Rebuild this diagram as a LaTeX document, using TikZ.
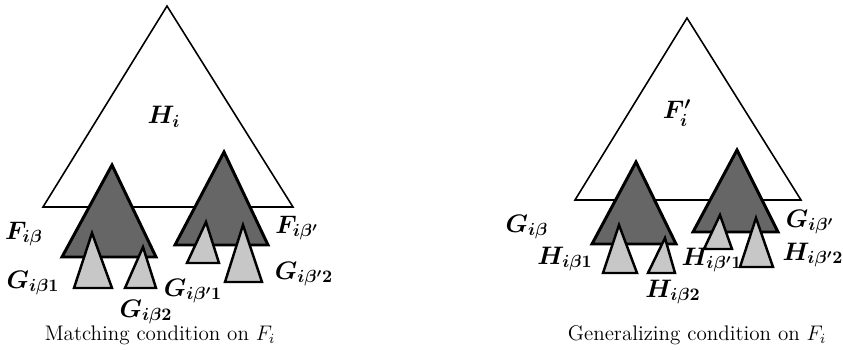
\documentclass[tikz,border=0pt]{standalone}
\usepackage{amsmath,amssymb}
\usepackage{xcolor}
\usepackage{tikz}

\begin{document}
\begin{tikzpicture}[
    x=0.02cm, y=-0.02cm,
    outer/.style={draw, line width=0.9pt, fill=white, line join=miter},
    subtree/.style={draw, line width=1.7pt, fill=black!60, line join=miter},
    leaftree/.style={draw, line width=1.4pt, fill=black!22, line join=miter},
    tlabel/.style={inner sep=1pt, font=\Large\boldmath},
    caption/.style={font=\large, inner sep=1pt},
  ]
  \useasboundingbox (0,0) rectangle (843,349);
  % left: matching condition
  \draw[outer] (167,6) -- (293,207) -- (43,207) -- cycle;
  \draw[subtree] (112,165) -- (156,257) -- (62,257) -- cycle;
  \draw[subtree] (224,152) -- (268,245) -- (175,245) -- cycle;
  \draw[leaftree] (92,233) -- (112,288) -- (74,288) -- cycle;
  \draw[leaftree] (143,247) -- (156,288) -- (125,288) -- cycle;
  \draw[leaftree] (206,222) -- (219,263) -- (187,263) -- cycle;
  \draw[leaftree] (243,225) -- (262,282) -- (225,282) -- cycle;
  \node[tlabel] (hi) at (164,117) {$H_{i}$};
  \node[tlabel] (fib) at (24,234) {$F_{i\beta}$};
  \node[tlabel] (fibp) at (297,228) {$F_{i\beta'}$};
  \node[tlabel] (gib1) at (33,283) {$G_{i\beta1}$};
  \node[tlabel] (gib2) at (146,312) {$G_{i\beta2}$};
  \node[tlabel] (gibp1) at (193,291) {$G_{i\beta'1}$};
  \node[tlabel] (gibp2) at (304,274) {$G_{i\beta'2}$};
  \node[caption] (capl) at (160,335) {Matching condition on $F_i$};
  % right: generalizing condition
  \draw[outer] (687,18) -- (801,200) -- (575,200) -- cycle;
  \draw[subtree] (636,162) -- (676,244) -- (592,244) -- cycle;
  \draw[subtree] (737,150) -- (778,232) -- (693,232) -- cycle;
  \draw[leaftree] (619,225) -- (637,273) -- (603,273) -- cycle;
  \draw[leaftree] (665,238) -- (675,273) -- (648,273) -- cycle;
  \draw[leaftree] (720,215) -- (732,249) -- (704,249) -- cycle;
  \draw[leaftree] (756,218) -- (773,267) -- (740,267) -- cycle;
  \node[tlabel] (fip) at (677,113) {$F'_{i}$};
  \node[tlabel] (gib) at (527,227) {$G_{i\beta}$};
  \node[tlabel] (gibpr) at (810,222) {$G_{i\beta'}$};
  \node[tlabel] (hib1) at (565,259) {$H_{i\beta1}$};
  \node[tlabel] (hib2) at (673,292) {$H_{i\beta2}$};
  \node[tlabel] (hibp1) at (712,260) {$H_{i\beta'1}$};
  \node[tlabel] (hibp2) at (813,255) {$H_{i\beta'2}$};
  \node[caption] (capr) at (697,335) {Generalizing condition on $F_i$};
\end{tikzpicture}
\end{document}
